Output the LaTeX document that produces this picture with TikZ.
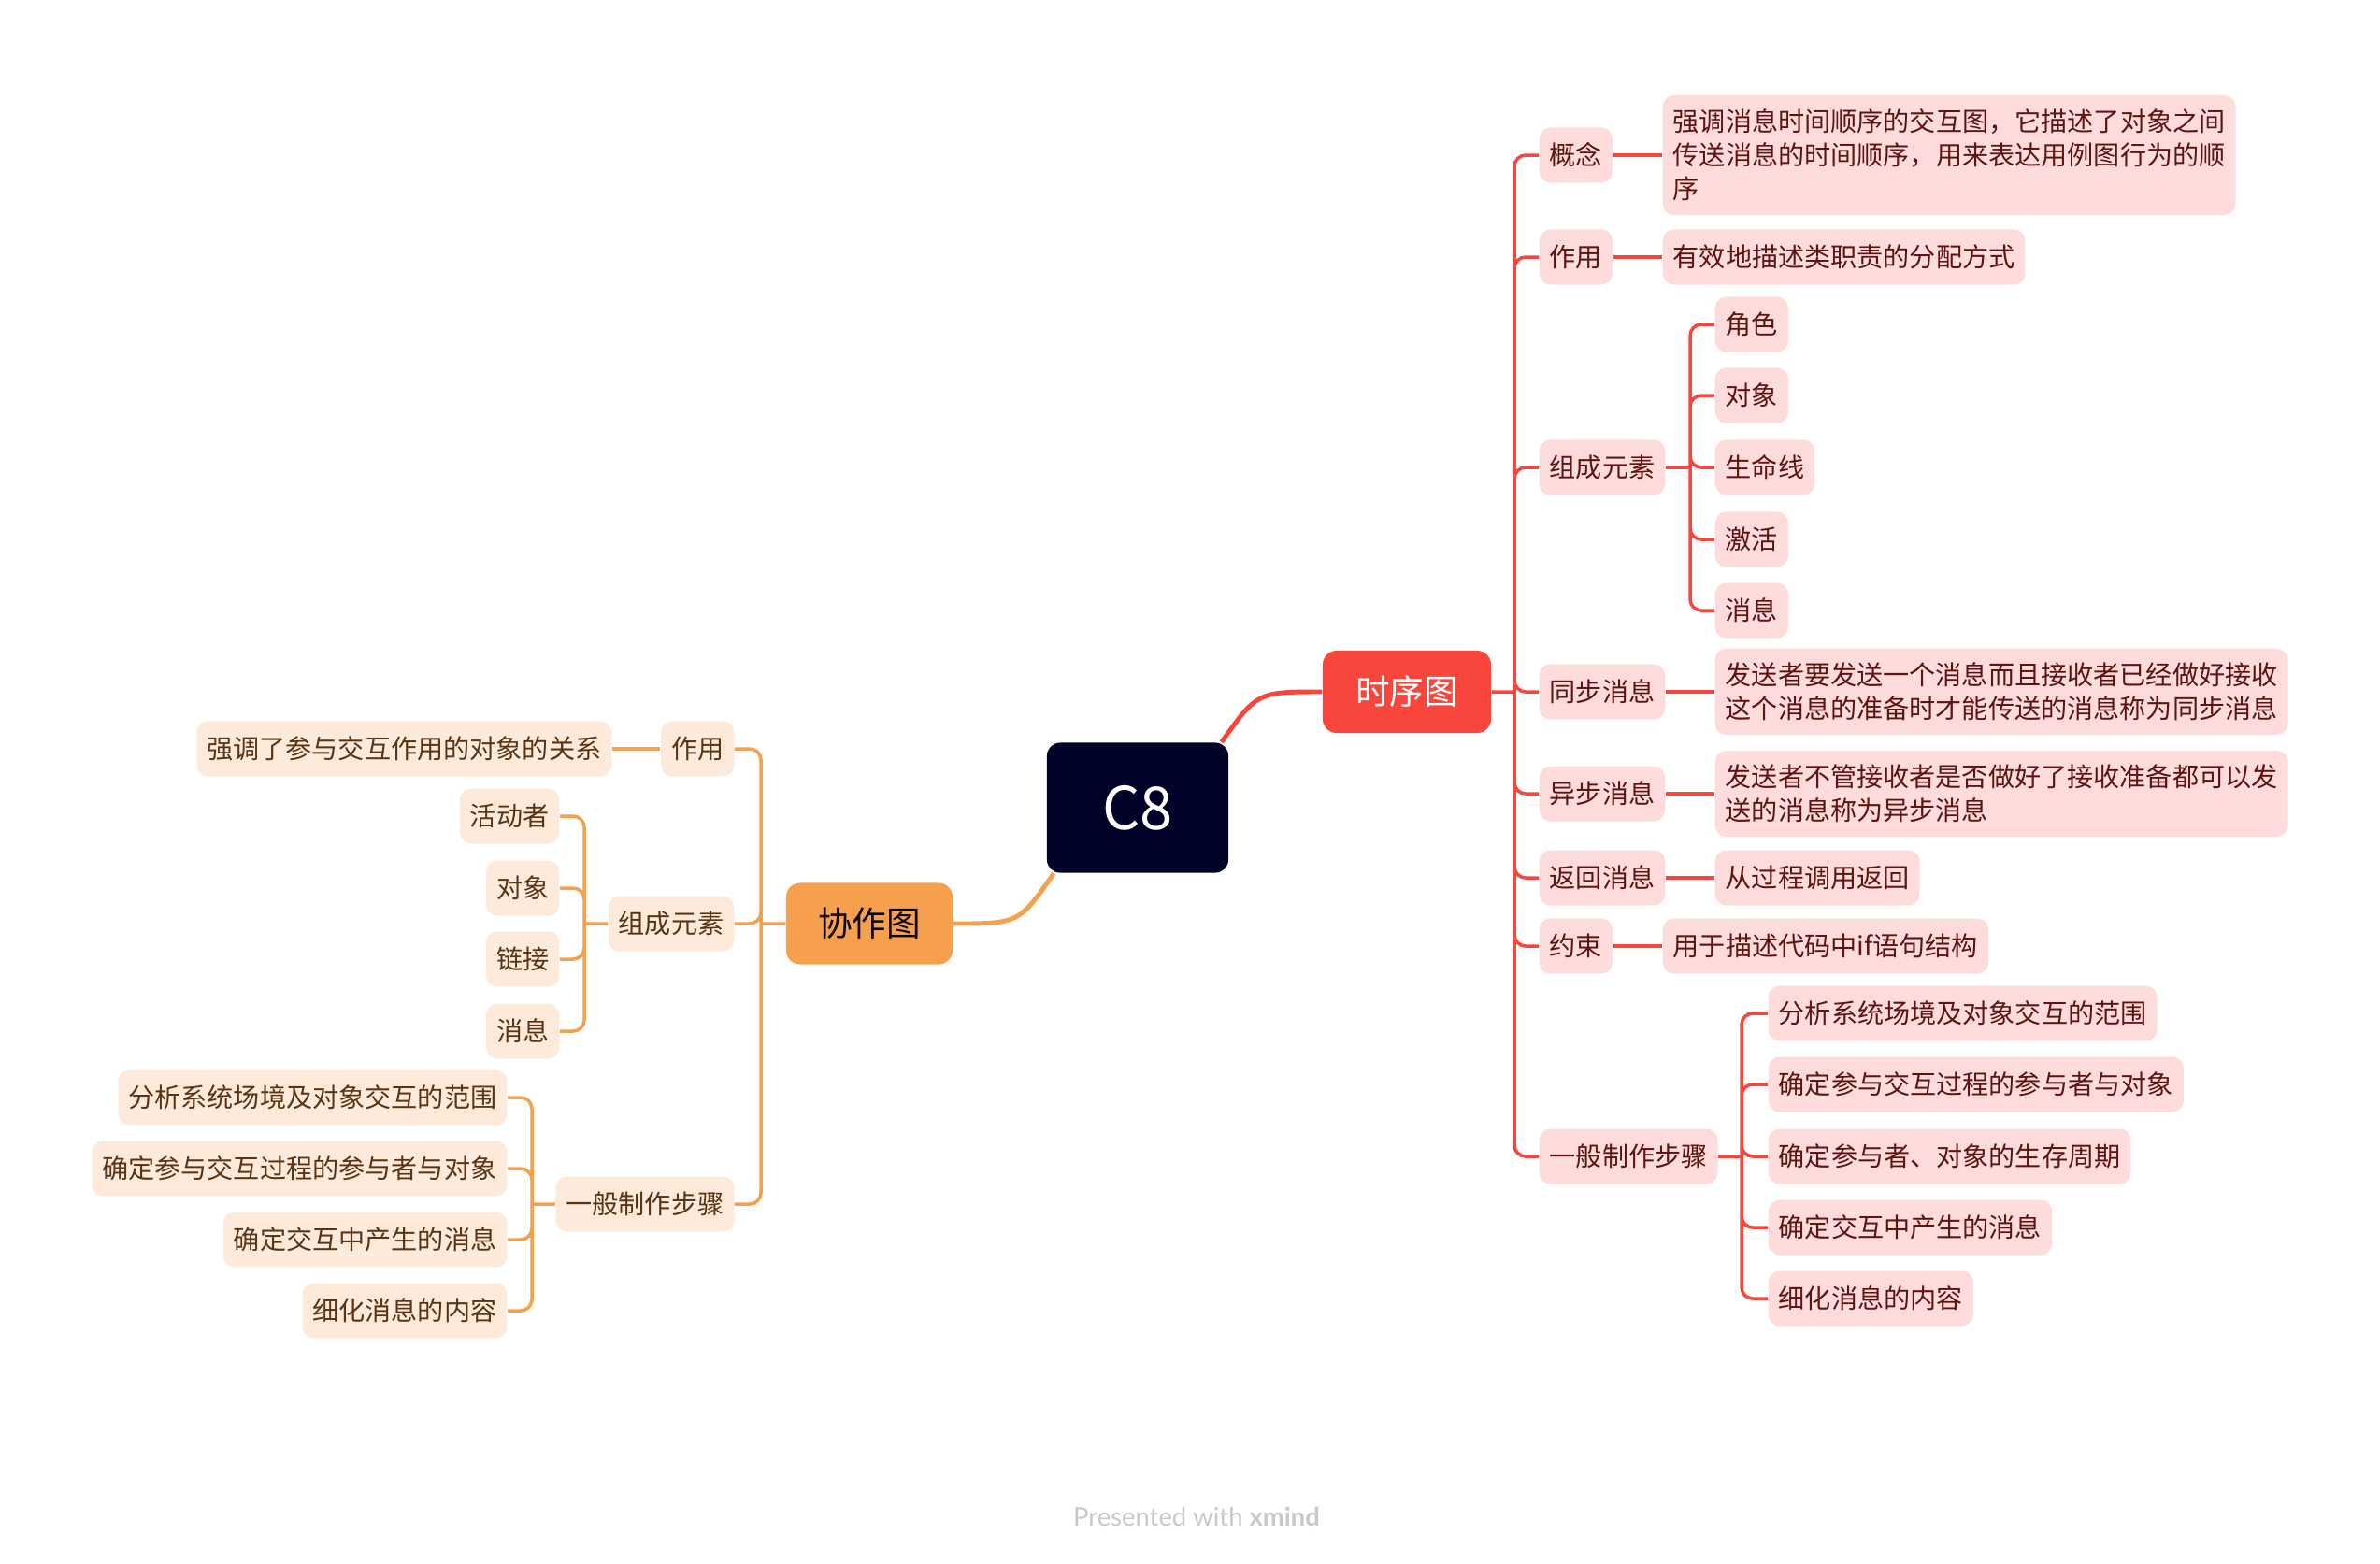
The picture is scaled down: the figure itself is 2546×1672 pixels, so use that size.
\documentclass[tikz,border=0pt]{standalone}
\usepackage{fontspec}
\setmainfont{Noto Sans CJK SC}
\newfontfamily\wmfont{Lato}
\usepackage{xcolor}
\definecolor{navy}{HTML}{00022A}
\definecolor{rred}{HTML}{F9463D}
\definecolor{rpink}{HTML}{FDDCDB}
\definecolor{rtext}{HTML}{5E1411}
\definecolor{oorange}{HTML}{F6A04D}
\definecolor{opink}{HTML}{FDEADB}
\definecolor{otext}{HTML}{5A3414}
\definecolor{wmgray}{HTML}{C8C8C8}

\begin{document}
\begin{tikzpicture}[x=0.01cm,y=-0.01cm,
    root/.style={rectangle,rounded corners=0.14cm,fill=navy,text=white,minimum width=1.94cm,minimum height=1.39cm,font=\fontsize{18pt}{20pt}\selectfont},
    rmain/.style={rectangle,rounded corners=0.15cm,fill=rred,text=white,minimum width=1.80cm,minimum height=0.88cm,font=\fontsize{10.4pt}{12pt}\selectfont},
    omain/.style={rectangle,rounded corners=0.15cm,fill=oorange,text=black!85!otext,minimum width=1.78cm,minimum height=0.87cm,font=\fontsize{10.4pt}{12pt}\selectfont},
    rbox/.style={rectangle,rounded corners=0.12cm,fill=rpink,text=rtext,inner xsep=0.11cm,inner ysep=0.15cm,minimum height=0.59cm,align=left,font=\fontsize{8pt}{10.2pt}\selectfont},
    obox/.style={rectangle,rounded corners=0.12cm,fill=opink,text=otext,inner xsep=0.11cm,inner ysep=0.15cm,minimum height=0.59cm,align=left,font=\fontsize{8pt}{10.2pt}\selectfont},
    rline/.style={draw=rred,line width=1pt,rounded corners=0.12cm},
    oline/.style={draw=oorange,line width=1pt,rounded corners=0.12cm}]
    \useasboundingbox (0,0) rectangle (2546,1672);

    % centre and main topics
    \node (c8) at (1217,864) [root] {C8};
    \node (sq) at (1505,740) [rmain] {时序图};
    \node (cq) at (930,988) [omain] {协作图};

    \draw[draw=rred,line width=1.4pt] ([xshift=-0.08cm]c8.north east) .. controls (1345,740) .. (sq.west);
    \draw[draw=oorange,line width=1.4pt] ([xshift=0.08cm]c8.south west) .. controls (1090,988) .. (cq.east);

    % 时序图
    \node (sgn) at (1646,166) [rbox,anchor=west] {概念};
    \node (sfn) at (1646,275) [rbox,anchor=west] {作用};
    \node (sel) at (1646,500) [rbox,anchor=west] {组成元素};
    \node (ssy) at (1646,740) [rbox,anchor=west] {同步消息};
    \node (sas) at (1646,849) [rbox,anchor=west] {异步消息};
    \node (sre) at (1646,939) [rbox,anchor=west] {返回消息};
    \node (scs) at (1646,1012) [rbox,anchor=west] {约束};
    \node (sst) at (1646,1237) [rbox,anchor=west] {一般制作步骤};

    \node (sgnt) at (1778,166) [rbox,anchor=west] {强调消息时间顺序的交互图，它描述了对象之间\\传送消息的时间顺序，用来表达用例图行为的顺\\序};
    \node (sfnt) at (1778,275) [rbox,anchor=west] {有效地描述类职责的分配方式};
    \node (se1) at (1834,347) [rbox,anchor=west] {角色};
    \node (se2) at (1834,423) [rbox,anchor=west] {对象};
    \node (se3) at (1834,500) [rbox,anchor=west] {生命线};
    \node (se4) at (1834,577) [rbox,anchor=west] {激活};
    \node (se5) at (1834,653) [rbox,anchor=west] {消息};
    \node (ssyt) at (1834,740) [rbox,anchor=west] {发送者要发送一个消息而且接收者已经做好接收\\这个消息的准备时才能传送的消息称为同步消息};
    \node (sast) at (1834,849) [rbox,anchor=west] {发送者不管接收者是否做好了接收准备都可以发\\送的消息称为异步消息};
    \node (sret) at (1834,939) [rbox,anchor=west] {从过程调用返回};
    \node (scst) at (1778,1012) [rbox,anchor=west] {用于描述代码中if语句结构};
    \node (ss1) at (1891,1084) [rbox,anchor=west] {分析系统场境及对象交互的范围};
    \node (ss2) at (1891,1160) [rbox,anchor=west] {确定参与交互过程的参与者与对象};
    \node (ss3) at (1891,1237) [rbox,anchor=west] {确定参与者、对象的生存周期};
    \node (ss4) at (1891,1313) [rbox,anchor=west] {确定交互中产生的消息};
    \node (ss5) at (1891,1389) [rbox,anchor=west] {细化消息的内容};

    \coordinate (rt) at (1620,740);
    \coordinate (ret) at (1808,500);
    \coordinate (rst) at (1863,1237);
    \draw[rline] (sq.east) -- (rt) (rt) |- (sgn.west) (rt) |- (sfn.west) (rt) |- (sel.west) (rt) |- (ssy.west) (rt) |- (sas.west) (rt) |- (sre.west) (rt) |- (scs.west) (rt) |- (sst.west);
    \draw[rline] (sgn.east) -- (sgnt.west) (sfn.east) -- (sfnt.west) (ssy.east) -- (ssyt.west) (sas.east) -- (sast.west) (sre.east) -- (sret.west) (scs.east) -- (scst.west);
    \draw[rline] (sel.east) -- (ret) (ret) |- (se1.west) (ret) |- (se2.west) (ret) |- (se3.west) (ret) |- (se4.west) (ret) |- (se5.west);
    \draw[rline] (sst.east) -- (rst) (rst) |- (ss1.west) (rst) |- (ss2.west) (rst) |- (ss3.west) (rst) |- (ss4.west) (rst) |- (ss5.west);

    % 协作图
    \node (cfn) at (786,801) [obox,anchor=east] {作用};
    \node (cel) at (786,988) [obox,anchor=east] {组成元素};
    \node (cst) at (786,1288) [obox,anchor=east] {一般制作步骤};

    \node (cfnt) at (655,801) [obox,anchor=east] {强调了参与交互作用的对象的关系};
    \node (ce1) at (599,873) [obox,anchor=east] {活动者};
    \node (ce2) at (599,950) [obox,anchor=east] {对象};
    \node (ce3) at (599,1026) [obox,anchor=east] {链接};
    \node (ce4) at (599,1103) [obox,anchor=east] {消息};
    \node (cs1) at (543,1174) [obox,anchor=east] {分析系统场境及对象交互的范围};
    \node (cs2) at (543,1250) [obox,anchor=east] {确定参与交互过程的参与者与对象};
    \node (cs3) at (543,1326) [obox,anchor=east] {确定交互中产生的消息};
    \node (cs4) at (543,1402) [obox,anchor=east] {细化消息的内容};

    \coordinate (lt) at (814,988);
    \coordinate (let) at (625,988);
    \coordinate (lst) at (569,1288);
    \draw[oline] (cq.west) -- (lt) (lt) |- (cfn.east) (lt) |- (cel.east) (lt) |- (cst.east);
    \draw[oline] (cfn.west) -- (cfnt.east);
    \draw[oline] (cel.west) -- (let) (let) |- (ce1.east) (let) |- (ce2.east) (let) |- (ce3.east) (let) |- (ce4.east);
    \draw[oline] (cst.west) -- (lst) (lst) |- (cs1.east) (lst) |- (cs2.east) (lst) |- (cs3.east) (lst) |- (cs4.east);

    % watermark
    \node (wm) at (1280,1632) [anchor=base,text=wmgray,font=\wmfont\fontsize{7.8pt}{9pt}\selectfont] {Presented with \textbf{xmind}};
\end{tikzpicture}
\end{document}
